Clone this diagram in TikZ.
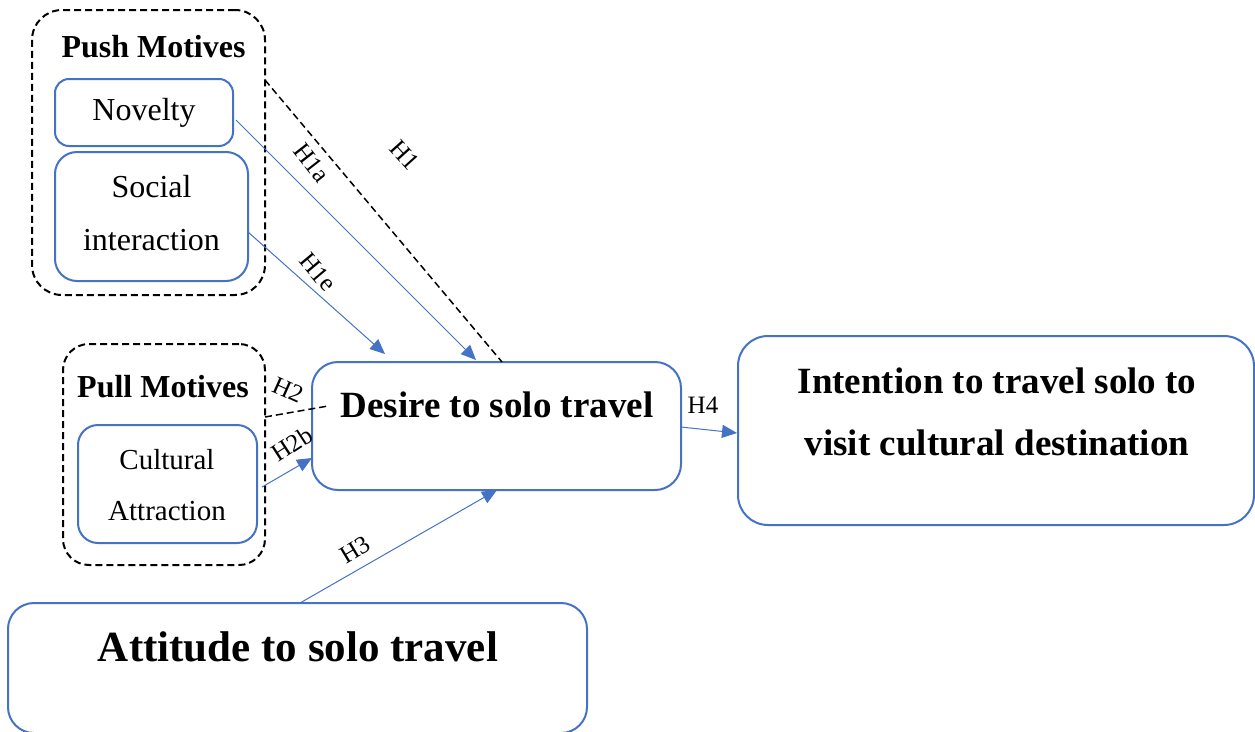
\documentclass[tikz,border=0pt]{standalone}
\usepackage{fontspec}
\setmainfont{Liberation Serif}
\usetikzlibrary{arrows.meta}
\definecolor{myblue}{HTML}{4472C4}
\begin{document}
\begin{tikzpicture}[x=1pt,y=-1pt,
  bbox/.style={draw=myblue,line width=2pt,rounded corners=#1,inner sep=0pt},
  dbox/.style={draw=black,line width=2pt,dash pattern=on 7pt off 4pt,rounded corners=#1,inner sep=0pt},
  conn/.style={draw=myblue,line width=1pt,-{Triangle[length=15pt,width=13pt]}},
  dconn/.style={draw=black,line width=1.5pt,dash pattern=on 7pt off 4pt},
  hl/.style={font=\fontsize{25}{28}\selectfont,inner sep=0pt},
]
\useasboundingbox (0,0) rectangle (1255,731);
% boxes
\node[dbox=30pt,minimum width=233pt,minimum height=285pt] (push) at (148.5,152.5) {};
\node[bbox=14pt,minimum width=178pt,minimum height=67pt] (novelty) at (144,112.5) {};
\node[bbox=22pt,minimum width=193pt,minimum height=129pt] (social) at (151.5,216.5) {};
\node[dbox=26pt,minimum width=202pt,minimum height=221pt] (pull) at (164,454.5) {};
\node[bbox=20pt,minimum width=179pt,minimum height=118pt] (cultural) at (167.5,484) {};
\node[bbox=26pt,minimum width=369pt,minimum height=128pt] (desire) at (496.5,426) {};
\node[bbox=30pt,minimum width=516pt,minimum height=189pt] (intention) at (996,430.5) {};
\node[bbox=26pt,minimum width=579pt,minimum height=130pt] (attitude) at (297.5,668) {};
% texts
\node[font=\fontsize{32}{36}\selectfont\bfseries,inner sep=0pt] (pusht) at (153.5,47) {Push Motives};
\node[font=\fontsize{32}{36}\selectfont,inner sep=0pt] (noveltyt) at (144,113) {Novelty};
\node[font=\fontsize{32}{53}\selectfont,inner sep=0pt,align=center] (socialt) at (151.5,213) {Social\\interaction};
\node[font=\fontsize{32}{36}\selectfont\bfseries,inner sep=0pt] (pullt) at (163,387) {Pull Motives};
\node[font=\fontsize{29}{51}\selectfont,inner sep=0pt,align=center] (culturalt) at (167,485) {Cultural\\Attraction};
\node[font=\fontsize{37}{44}\selectfont\bfseries,inner sep=0pt] (desiret) at (497,405) {Desire to solo travel};
\node[font=\fontsize{37}{62}\selectfont\bfseries,inner sep=0pt,align=center] (intentiont) at (997,412) {Intention to travel solo to\\visit cultural destination};
\node[font=\fontsize{43}{48}\selectfont\bfseries,inner sep=0pt] (attitudet) at (298,647) {Attitude to solo travel};
% connector ends
\coordinate (h1s) at (265,80);
\coordinate (h1e) at (502,362);
\coordinate (h1as) at (236,120);
\coordinate (h1ae) at (476,360);
\coordinate (h1es) at (248,232);
\coordinate (h1ee) at (385,354);
\coordinate (h2s) at (265,417);
\coordinate (h2e) at (328,406);
\coordinate (h2bs) at (262,487);
\coordinate (h2be) at (312,458);
\coordinate (h3s) at (300,603);
\coordinate (h3e) at (497,490);
\coordinate (h4s) at (681,427);
\coordinate (h4e) at (737,433);
% connectors
\draw[dconn] (h1s) -- (h1e);
\draw[conn] (h1as) -- (h1ae);
\draw[conn] (h1es) -- (h1ee);
\draw[dconn] (h2s) -- (h2e);
\draw[conn] (h2bs) -- (h2be);
\draw[conn] (h3s) -- (h3e);
\draw[conn] (h4s) -- (h4e);
% labels
\node[hl,rotate=-48] (l1) at (405,155) {H1};
\node[hl,rotate=-52] (l1a) at (312,163) {H1a};
\node[hl,rotate=-50] (l1e) at (318,272) {H1e};
\node[hl,rotate=-24] (l2) at (288,390) {H2};
\node[hl,rotate=33] (l2b) at (292,444) {H2b};
\node[hl,rotate=31] (l3) at (355,550) {H3};
\node[hl] (l4) at (703,405) {H4};
\end{tikzpicture}
\end{document}
